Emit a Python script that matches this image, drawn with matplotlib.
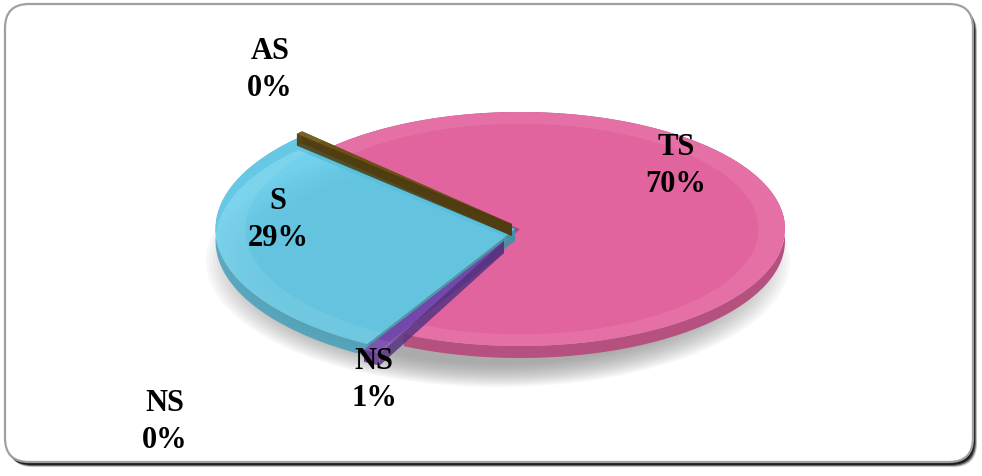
import numpy as np
import matplotlib.pyplot as plt
from matplotlib.patches import Polygon, Ellipse, FancyBboxPatch

# slice data, drawn clockwise from the first slice angle
labels = ['TS', 'NS', 'S', 'AS', 'NS']
values = [70, 1, 29, 0.4, 0]
colors = ['#E2649F', '#7A48B4', '#58C8E8', '#6E5412', '#9B9B9B']
# per-slice pull-out: apex shift in pixels and radius scale
offsets = [(0, 0), (-16, 12), (-5, 0), (-8, -5)]
scales = [1.0, 1.07, 1.13, 1.12]
label_pos = [(676, 166), (374, 380), (278, 220), (270, 70), (165, 422)]

start_angle = 315          # degrees from 12 o'clock, clockwise
cx, cy = 520, 230
rx, ry = 265, 117
depth = 12

fig = plt.figure(figsize=(9.82, 4.77), dpi=100)
ax = fig.add_axes([0, 0, 1, 1])
ax.set_xlim(0, 982)
ax.set_ylim(477, 0)
ax.axis('off')

# rounded frame with a dark drop shadow
for i, a in enumerate([0.25, 0.45, 0.7]):
    ax.add_patch(FancyBboxPatch((6 + 3 - i, 6 + 4 - i), 968, 458,
                                boxstyle="round,pad=0,rounding_size=24",
                                facecolor='black', edgecolor='none', alpha=a, zorder=0))
ax.add_patch(FancyBboxPatch((5, 5), 968, 458, boxstyle="round,pad=0,rounding_size=24",
                            facecolor='white', edgecolor='#a0a0a0', lw=1.6, zorder=1))

# soft shadow under the pie
for k in range(16):
    s = 1 - k * 0.012
    ax.add_patch(Ellipse((498, 262), 2 * 292 * s, 2 * 126 * s,
                         facecolor='#808080', edgecolor='none', alpha=0.06, zorder=2))


def pt(t, ox=0, oy=0, dz=0, k=1.0):
    r = np.radians(t)
    return cx + ox + k * rx * np.sin(r), cy + oy - k * ry * np.cos(r) + dz


def shade(c, f):
    c = np.array(plt.matplotlib.colors.to_rgb(c))
    return tuple(np.clip(c * f, 0, 1))


total = sum(values)
pct = [round(v / total * 100) for v in values]
angles = []
a = start_angle
for v in values:
    span = v / total * 360
    angles.append((a, a + span))
    a += span

z = 3
for i in [0, 2, 3, 1]:
    a0, a1 = angles[i]
    if values[i] <= 0:
        continue
    ox, oy = offsets[i]
    k = scales[i]
    ts = np.linspace(a0, a1, max(int(a1 - a0) * 2, 4))
    top = [pt(t, ox, oy, k=k) for t in ts]
    bot = [pt(t, ox, oy, depth, k=k) for t in ts]
    c0 = (cx + ox, cy + oy)
    c1 = (cx + ox, cy + oy + depth)
    alpha = 1.0 if i == 0 else 0.85
    # radial walls
    for t in (a0, a1):
        ax.add_patch(Polygon([c0, pt(t, ox, oy, k=k), pt(t, ox, oy, depth, k=k), c1],
                             facecolor=shade(colors[i], 0.72), edgecolor='none',
                             alpha=alpha, zorder=z))
    # outer wall
    ax.add_patch(Polygon(top + bot[::-1], facecolor=shade(colors[i], 0.8),
                         edgecolor='none', alpha=alpha, zorder=z + 1))
    # top face
    ax.add_patch(Polygon([c0] + top, facecolor=colors[i], edgecolor='none',
                         alpha=alpha, zorder=z + 2))
    # lighter bevel along the edge of the top face
    inner = [pt(t, ox, oy, k=0.9 * k) for t in ts]
    ax.add_patch(Polygon(top + inner[::-1], facecolor='white', edgecolor='none',
                         alpha=0.08, zorder=z + 2))
    z += 3

font = dict(family=['Liberation Serif', 'DejaVu Serif'], weight='bold',
            fontsize=22, ha='center', va='center', zorder=40, linespacing=1.4)
for lab, p, (x, y) in zip(labels, pct, label_pos):
    ax.text(x, y, f"{lab}\n{p}%", **font)

fig.savefig('out.png', dpi=100)
